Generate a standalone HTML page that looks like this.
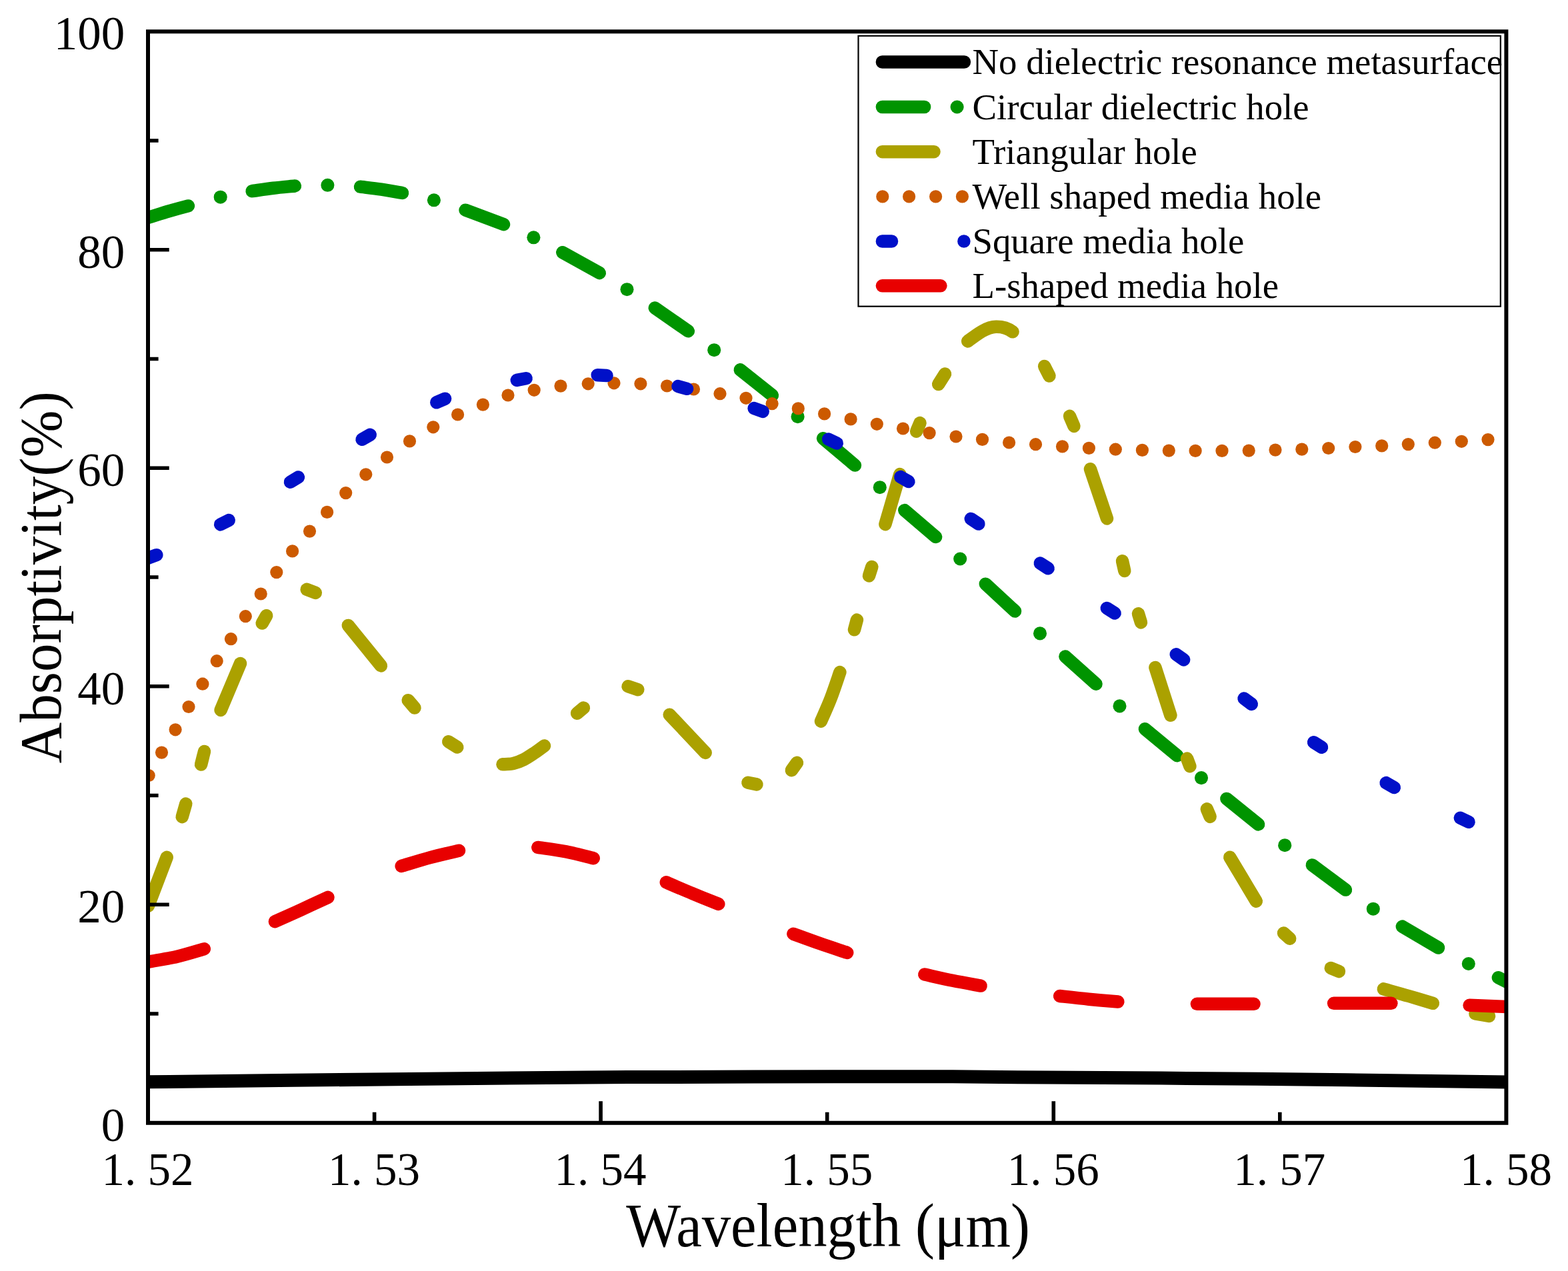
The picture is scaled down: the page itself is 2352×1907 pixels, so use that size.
<!DOCTYPE html>
<html><head><meta charset="utf-8"><title>Absorptivity vs Wavelength</title>
<style>
html,body{margin:0;padding:0;background:#fff;}
body{width:2352px;height:1907px;overflow:hidden;}
svg{display:block;}
text{font-family:"Liberation Serif","Times New Roman",serif;fill:#000;}
</style></head><body>
<svg width="2352" height="1907" viewBox="0 0 2352 1907">
<rect width="2352" height="1907" fill="#fff"/>
<defs><clipPath id="pa"><rect x="222.0" y="47.3" width="2037.4" height="1637.5"/></clipPath></defs>

<g clip-path="url(#pa)">
<g fill="none" stroke="#000000" stroke-width="20" stroke-linecap="butt" stroke-linejoin="round">
<path d="M200.0,1625.0C203.7,1624.7 152.8,1624.3 222.0,1623.3C291.2,1622.3 505.3,1620.2 615.0,1619.0C724.7,1617.8 815.8,1616.9 880.0,1616.4C944.2,1615.9 938.3,1616.2 1000.0,1616.0C1061.7,1615.8 1183.3,1615.4 1250.0,1615.3C1316.7,1615.2 1358.3,1615.1 1400.0,1615.2C1441.7,1615.3 1419.2,1615.4 1500.0,1616.0C1580.8,1616.6 1758.4,1617.5 1885.0,1618.8C2011.6,1620.1 2193.6,1622.7 2259.4,1623.6C2325.2,1624.5 2276.6,1624.1 2280.0,1624.2"/>
</g>
<g fill="none" stroke="#009400" stroke-width="19.5" stroke-linecap="round" stroke-linejoin="round">
<path d="M205.0,331.5C207.8,330.7 213.7,329.0 222.0,326.5C230.3,324.0 244.9,319.3 255.0,316.4C265.1,313.5 277.8,310.1 282.4,308.9"/>
<path d="M378.1,286.7C383.4,286.0 399.3,283.6 410.0,282.3C420.7,281.0 437.0,279.6 442.4,279.0"/>
<path d="M540.5,280.2C545.8,280.9 561.5,282.6 572.0,284.2C582.5,285.8 598.2,288.6 603.5,289.5"/>
<path d="M698.1,315.2L755.5,336.7"/>
<path d="M843.8,378.7L899.3,409.6"/>
<path d="M982.3,462.1L1032.3,496.8"/>
<path d="M1110.3,554.8L1158.4,593.2"/>
<path d="M1234.6,657.7L1282.4,698.1"/>
<path d="M1356.8,765.6L1403.6,805.6"/>
<path d="M1478.3,876.2L1522.5,917.0"/>
<path d="M1597.9,985.0L1644.0,1026.2"/>
<path d="M1717.4,1093.7L1765.8,1133.8"/>
<path d="M1839.9,1198.4L1887.6,1236.9"/>
<path d="M1968.3,1297.9L2018.4,1335.1"/>
<path d="M2103.3,1390.1L2157.6,1422.0"/>
<path d="M2247.4,1466.8L2275.0,1480.5"/>
</g>
<g fill="#009400">
<circle cx="330.7" cy="295.7" r="10.05"/>
<circle cx="491.4" cy="277.8" r="10.05"/>
<circle cx="650.9" cy="300.3" r="10.05"/>
<circle cx="800.4" cy="356.3" r="10.05"/>
<circle cx="940.5" cy="434.2" r="10.05"/>
<circle cx="1071.2" cy="525.2" r="10.05"/>
<circle cx="1196.6" cy="625.2" r="10.05"/>
<circle cx="1319.8" cy="731.2" r="10.05"/>
<circle cx="1440.2" cy="838.5" r="10.05"/>
<circle cx="1560.0" cy="950.4" r="10.05"/>
<circle cx="1679.5" cy="1059.4" r="10.05"/>
<circle cx="1802.0" cy="1167.1" r="10.05"/>
<circle cx="1927.2" cy="1268.2" r="10.05"/>
<circle cx="2059.8" cy="1363.7" r="10.05"/>
<circle cx="2202.8" cy="1446.0" r="10.05"/>
</g>
<g fill="none" stroke="#ABA100" stroke-width="19.5" stroke-linecap="round" stroke-linejoin="round">
<path d="M222.5,1359.0L250.2,1286.3"/>
<path d="M273.2,1225.6L278.8,1206.0"/>
<path d="M301.6,1147.1L306.5,1127.5"/>
<path d="M331.1,1065.4L360.5,995.5"/>
<path d="M393.2,935.1L399.7,923.7"/>
<path d="M460.2,884.4L473.3,889.4"/>
<path d="M522.3,938.4L571.4,998.9"/>
<path d="M612.2,1050.7L622.0,1062.1"/>
<path d="M672.7,1112.8L685.8,1121.0"/>
<path d="M754.0,1146.8C756.7,1146.6 764.7,1146.7 770.0,1145.5C775.3,1144.3 780.7,1142.2 786.0,1139.5C791.3,1136.8 796.9,1132.9 802.0,1129.5C807.1,1126.1 814.1,1120.8 816.5,1119.0"/>
<path d="M865.6,1070.3L875.4,1062.1"/>
<path d="M942.1,1029.8L956.8,1034.7"/>
<path d="M1004.2,1072.3L1058.2,1129.5"/>
<path d="M1121.9,1174.3L1135.0,1176.9"/>
<path d="M1187.3,1155.7L1195.5,1144.3"/>
<path d="M1231.5,1082.1C1234.0,1076.4 1241.5,1060.0 1246.2,1047.8C1250.9,1035.5 1257.6,1015.1 1259.9,1008.6"/>
<path d="M1281.5,944.8L1285.4,930.1"/>
<path d="M1303.5,864.0L1307.8,850.5"/>
<path d="M1327.9,786.6L1349.8,711.5"/>
<path d="M1374.6,647.3L1380.0,634.6"/>
<path d="M1407.7,576.5L1417.5,561.0"/>
<path d="M1451.7,512 C1463,503.5 1479,490.5 1494,490.3 C1504,490.1 1512,492.6 1519,497.8"/>
<path d="M1566.6,549.5L1574.0,564.0"/>
<path d="M1604.5,624.4L1611.0,639.5"/>
<path d="M1635.5,703.8L1660.5,778.0"/>
<path d="M1683.5,841.7L1686.8,856.5"/>
<path d="M1707.5,920.8L1711.5,934.0"/>
<path d="M1732.9,1001.5L1755.9,1073.3"/>
<path d="M1780.6,1138.1L1784.9,1149.7"/>
<path d="M1810.3,1213.9L1815.2,1225.4"/>
<path d="M1844.8,1286.3C1848.1,1291.8 1858.0,1308.3 1864.6,1319.3C1871.2,1330.3 1881.0,1346.7 1884.3,1352.2"/>
<path d="M1925.5,1400.0L1934.7,1408.2"/>
<path d="M1996.3,1452.6L2008.5,1457.6"/>
<path d="M2075.3,1483.9C2081.6,1485.7 2100.8,1490.9 2113.2,1494.5C2125.5,1498.1 2143.4,1503.5 2149.4,1505.3"/>
<path d="M2213.0,1521.0L2233.5,1524.5"/>
</g>
<g fill="#CC5A00">
<circle cx="223.2" cy="1163.5" r="9.6"/>
<circle cx="242.5" cy="1129.1" r="9.6"/>
<circle cx="263.1" cy="1094.8" r="9.6"/>
<circle cx="283.0" cy="1060.5" r="9.6"/>
<circle cx="303.9" cy="1026.2" r="9.6"/>
<circle cx="325.2" cy="991.7" r="9.6"/>
<circle cx="346.4" cy="958.7" r="9.6"/>
<circle cx="368.3" cy="924.7" r="9.6"/>
<circle cx="391.2" cy="891.0" r="9.6"/>
<circle cx="414.8" cy="858.6" r="9.6"/>
<circle cx="438.6" cy="826.9" r="9.6"/>
<circle cx="464.5" cy="797.1" r="9.6"/>
<circle cx="490.6" cy="768.4" r="9.6"/>
<circle cx="518.7" cy="739.6" r="9.6"/>
<circle cx="548.8" cy="711.8" r="9.6"/>
<circle cx="580.5" cy="686.0" r="9.6"/>
<circle cx="614.5" cy="661.9" r="9.6"/>
<circle cx="649.8" cy="640.8" r="9.6"/>
<circle cx="686.6" cy="622.0" r="9.6"/>
<circle cx="724.4" cy="607.1" r="9.6"/>
<circle cx="762.0" cy="593.0" r="9.6"/>
<circle cx="801.2" cy="585.3" r="9.6"/>
<circle cx="841.0" cy="579.1" r="9.6"/>
<circle cx="882.2" cy="575.8" r="9.6"/>
<circle cx="921.0" cy="574.8" r="9.6"/>
<circle cx="960.9" cy="575.8" r="9.6"/>
<circle cx="1000.5" cy="579.0" r="9.6"/>
<circle cx="1040.5" cy="584.0" r="9.6"/>
<circle cx="1080.0" cy="590.7" r="9.6"/>
<circle cx="1119.0" cy="597.3" r="9.6"/>
<circle cx="1158.1" cy="605.7" r="9.6"/>
<circle cx="1197.3" cy="612.9" r="9.6"/>
<circle cx="1236.6" cy="620.9" r="9.6"/>
<circle cx="1276.1" cy="628.9" r="9.6"/>
<circle cx="1315.3" cy="636.3" r="9.6"/>
<circle cx="1354.5" cy="643.0" r="9.6"/>
<circle cx="1394.1" cy="649.6" r="9.6"/>
<circle cx="1434.0" cy="655.0" r="9.6"/>
<circle cx="1473.5" cy="659.4" r="9.6"/>
<circle cx="1513.6" cy="664.0" r="9.6"/>
<circle cx="1553.5" cy="666.7" r="9.6"/>
<circle cx="1593.5" cy="669.9" r="9.6"/>
<circle cx="1633.4" cy="672.4" r="9.6"/>
<circle cx="1673.3" cy="674.2" r="9.6"/>
<circle cx="1713.4" cy="675.4" r="9.6"/>
<circle cx="1753.3" cy="676.1" r="9.6"/>
<circle cx="1793.1" cy="676.4" r="9.6"/>
<circle cx="1833.0" cy="676.4" r="9.6"/>
<circle cx="1873.2" cy="676.1" r="9.6"/>
<circle cx="1913.0" cy="675.1" r="9.6"/>
<circle cx="1952.8" cy="674.1" r="9.6"/>
<circle cx="1992.7" cy="672.5" r="9.6"/>
<circle cx="2032.9" cy="670.5" r="9.6"/>
<circle cx="2072.7" cy="668.9" r="9.6"/>
<circle cx="2112.3" cy="666.6" r="9.6"/>
<circle cx="2152.3" cy="664.2" r="9.6"/>
<circle cx="2192.3" cy="662.3" r="9.6"/>
<circle cx="2232.0" cy="659.6" r="9.6"/>
</g>
<g fill="none" stroke="#0010C8" stroke-width="19.5" stroke-linecap="round" stroke-linejoin="round">
<path d="M212.0,841.0L234.8,832.7"/>
<path d="M330.7,786.9L343.2,780.6"/>
<path d="M435.5,723.3L447.4,716.0"/>
<path d="M543.1,659.3L555.3,652.3"/>
<path d="M654.8,603.8L667.6,598.2"/>
<path d="M775.3,570.4L789.1,567.7"/>
<path d="M896.2,562.8L910.1,563.5"/>
<path d="M1017.1,579.6L1030.5,583.3"/>
<path d="M1131.1,612.6L1144.2,617.4"/>
<path d="M1242.6,659.0L1255.2,665.0"/>
<path d="M1350.8,715.6L1362.9,722.5"/>
<path d="M1456.3,778.4L1467.9,786.1"/>
<path d="M1560.3,845.1L1572.1,852.7"/>
<path d="M1660.3,912.5L1672.1,919.9"/>
<path d="M1764.3,981.8L1775.6,989.9"/>
<path d="M1866.1,1048.0L1877.3,1056.4"/>
<path d="M1970.6,1113.8L1982.5,1121.3"/>
<path d="M2079.1,1174.6L2091.3,1181.6"/>
<path d="M2190.4,1227.3L2203.0,1233.3"/>
</g>
<g fill="none" stroke="#E80000" stroke-width="19.5" stroke-linecap="round" stroke-linejoin="round">
<path d="M205.0,1447.0C207.8,1446.4 211.9,1445.4 222.0,1443.4C232.1,1441.4 251.6,1438.5 265.7,1435.2C279.8,1431.9 299.5,1425.7 306.3,1423.8"/>
<path d="M412.4,1382.7C418.8,1379.8 437.7,1371.4 451.0,1365.3C464.3,1359.2 485.2,1349.5 492.0,1346.3"/>
<path d="M602.2,1299.4C609.4,1297.3 631.0,1290.5 645.4,1286.6C659.8,1282.7 681.3,1277.9 688.5,1276.2"/>
<path d="M806.8,1271.4C813.9,1272.5 835.4,1275.2 849.3,1277.9C863.2,1280.6 883.4,1286.1 890.2,1287.7"/>
<path d="M999.3,1323.8C1005.8,1326.6 1025.4,1335.1 1038.5,1340.5C1051.6,1345.9 1071.2,1353.8 1077.8,1356.4"/>
<path d="M1189.9,1401.2C1196.6,1403.6 1216.8,1411.1 1230.3,1415.8C1243.8,1420.5 1264.0,1427.1 1270.7,1429.4"/>
<path d="M1386.8,1462.0C1393.8,1463.5 1415.0,1468.5 1429.0,1471.3C1443.0,1474.1 1464.1,1477.8 1471.1,1479.1"/>
<path d="M1589.6,1494.5C1596.9,1495.3 1618.8,1497.8 1633.3,1499.2C1647.8,1500.6 1669.6,1502.4 1676.9,1503.0"/>
<path d="M1795.4,1506.3L1881.0,1506.3"/>
<path d="M2000.6,1505.3L2086.9,1505.3"/>
<path d="M2204.1,1508.3L2275.0,1511.2"/>
</g>
</g>
<rect x="1287.5" y="53.8" width="963.3000000000002" height="405.9" fill="none" stroke="#000" stroke-width="2.2"/>
<line x1="1323.4" y1="93.0" x2="1446.4" y2="93.0" stroke="#000" stroke-width="19.5" stroke-linecap="round"/>
<line x1="1323.4" y1="160.5" x2="1386.6" y2="160.5" stroke="#009400" stroke-width="19.5" stroke-linecap="round"/>
<circle cx="1435.6" cy="160.5" r="10.05" fill="#009400"/>
<line x1="1323.4" y1="227.7" x2="1401.0" y2="227.7" stroke="#ABA100" stroke-width="19.5" stroke-linecap="round"/>
<circle cx="1323.8" cy="294.9" r="9.6" fill="#CC5A00"/>
<circle cx="1363.6" cy="294.9" r="9.6" fill="#CC5A00"/>
<circle cx="1403.6" cy="294.9" r="9.6" fill="#CC5A00"/>
<circle cx="1443.4" cy="294.9" r="9.6" fill="#CC5A00"/>
<line x1="1323.4" y1="362.0" x2="1337.5" y2="362.0" stroke="#0010C8" stroke-width="19.5" stroke-linecap="round"/>
<circle cx="1445.9" cy="362.0" r="9.75" fill="#0010C8"/>
<line x1="1323.4" y1="428.8" x2="1410.9" y2="428.8" stroke="#E80000" stroke-width="19.5" stroke-linecap="round"/>
<text x="1458.5" y="111.4" font-size="54.8" id="leg0">No dielectric resonance metasurface</text>
<text x="1458.5" y="178.9" font-size="54.8" id="leg1">Circular dielectric hole</text>
<text x="1458.5" y="246.1" font-size="54.8" id="leg2">Triangular hole</text>
<text x="1458.5" y="313.3" font-size="54.8" id="leg3">Well shaped media hole</text>
<text x="1458.5" y="380.4" font-size="54.8" id="leg4">Square media hole</text>
<text x="1458.5" y="447.2" font-size="54.8" id="leg5">L-shaped media hole</text>
<rect x="222.0" y="47.3" width="2037.4" height="1637.5" fill="none" stroke="#000" stroke-width="6.0" stroke-linejoin="miter"/>
<path d="M222.0,1521.0h15.6 M222.0,1193.5h15.6 M222.0,866.0h15.6 M222.0,538.5h15.6 M222.0,211.0h15.6 M222.0,1357.3h31.7 M222.0,1029.8h31.7 M222.0,702.3h31.7 M222.0,374.8h31.7 M561.6,1684.8v-16 M1240.7,1684.8v-16 M1919.8,1684.8v-16 M901.1,1684.8v-32.5 M1580.3,1684.8v-32.5" stroke="#000" stroke-width="5.6" fill="none"/>
<text x="187.3" y="1711.8" font-size="71" text-anchor="end">0</text>
<text x="187.3" y="1384.3" font-size="71" text-anchor="end">20</text>
<text x="187.3" y="1056.8" font-size="71" text-anchor="end">40</text>
<text x="187.3" y="729.3" font-size="71" text-anchor="end">60</text>
<text x="187.3" y="401.8" font-size="71" text-anchor="end">80</text>
<text x="187.3" y="74.3" font-size="71" text-anchor="end">100</text>
<text x="221.5" y="1778" font-size="69" text-anchor="middle" xml:space="preserve">1. 52</text>
<text x="561.1" y="1778" font-size="69" text-anchor="middle" xml:space="preserve">1. 53</text>
<text x="900.6" y="1778" font-size="69" text-anchor="middle" xml:space="preserve">1. 54</text>
<text x="1240.2" y="1778" font-size="69" text-anchor="middle" xml:space="preserve">1. 55</text>
<text x="1579.8" y="1778" font-size="69" text-anchor="middle" xml:space="preserve">1. 56</text>
<text x="1919.3" y="1778" font-size="69" text-anchor="middle" xml:space="preserve">1. 57</text>
<text x="2258.9" y="1778" font-size="69" text-anchor="middle" xml:space="preserve">1. 58</text>
<text transform="translate(1242,1870) scale(0.938,1)" font-size="92.5" text-anchor="middle">Wavelength (μm)</text>
<text transform="translate(90.5,866.2) rotate(-90) scale(0.957,1)" font-size="89" text-anchor="middle">Absorptivity(%)</text>
</svg>
</body></html>
